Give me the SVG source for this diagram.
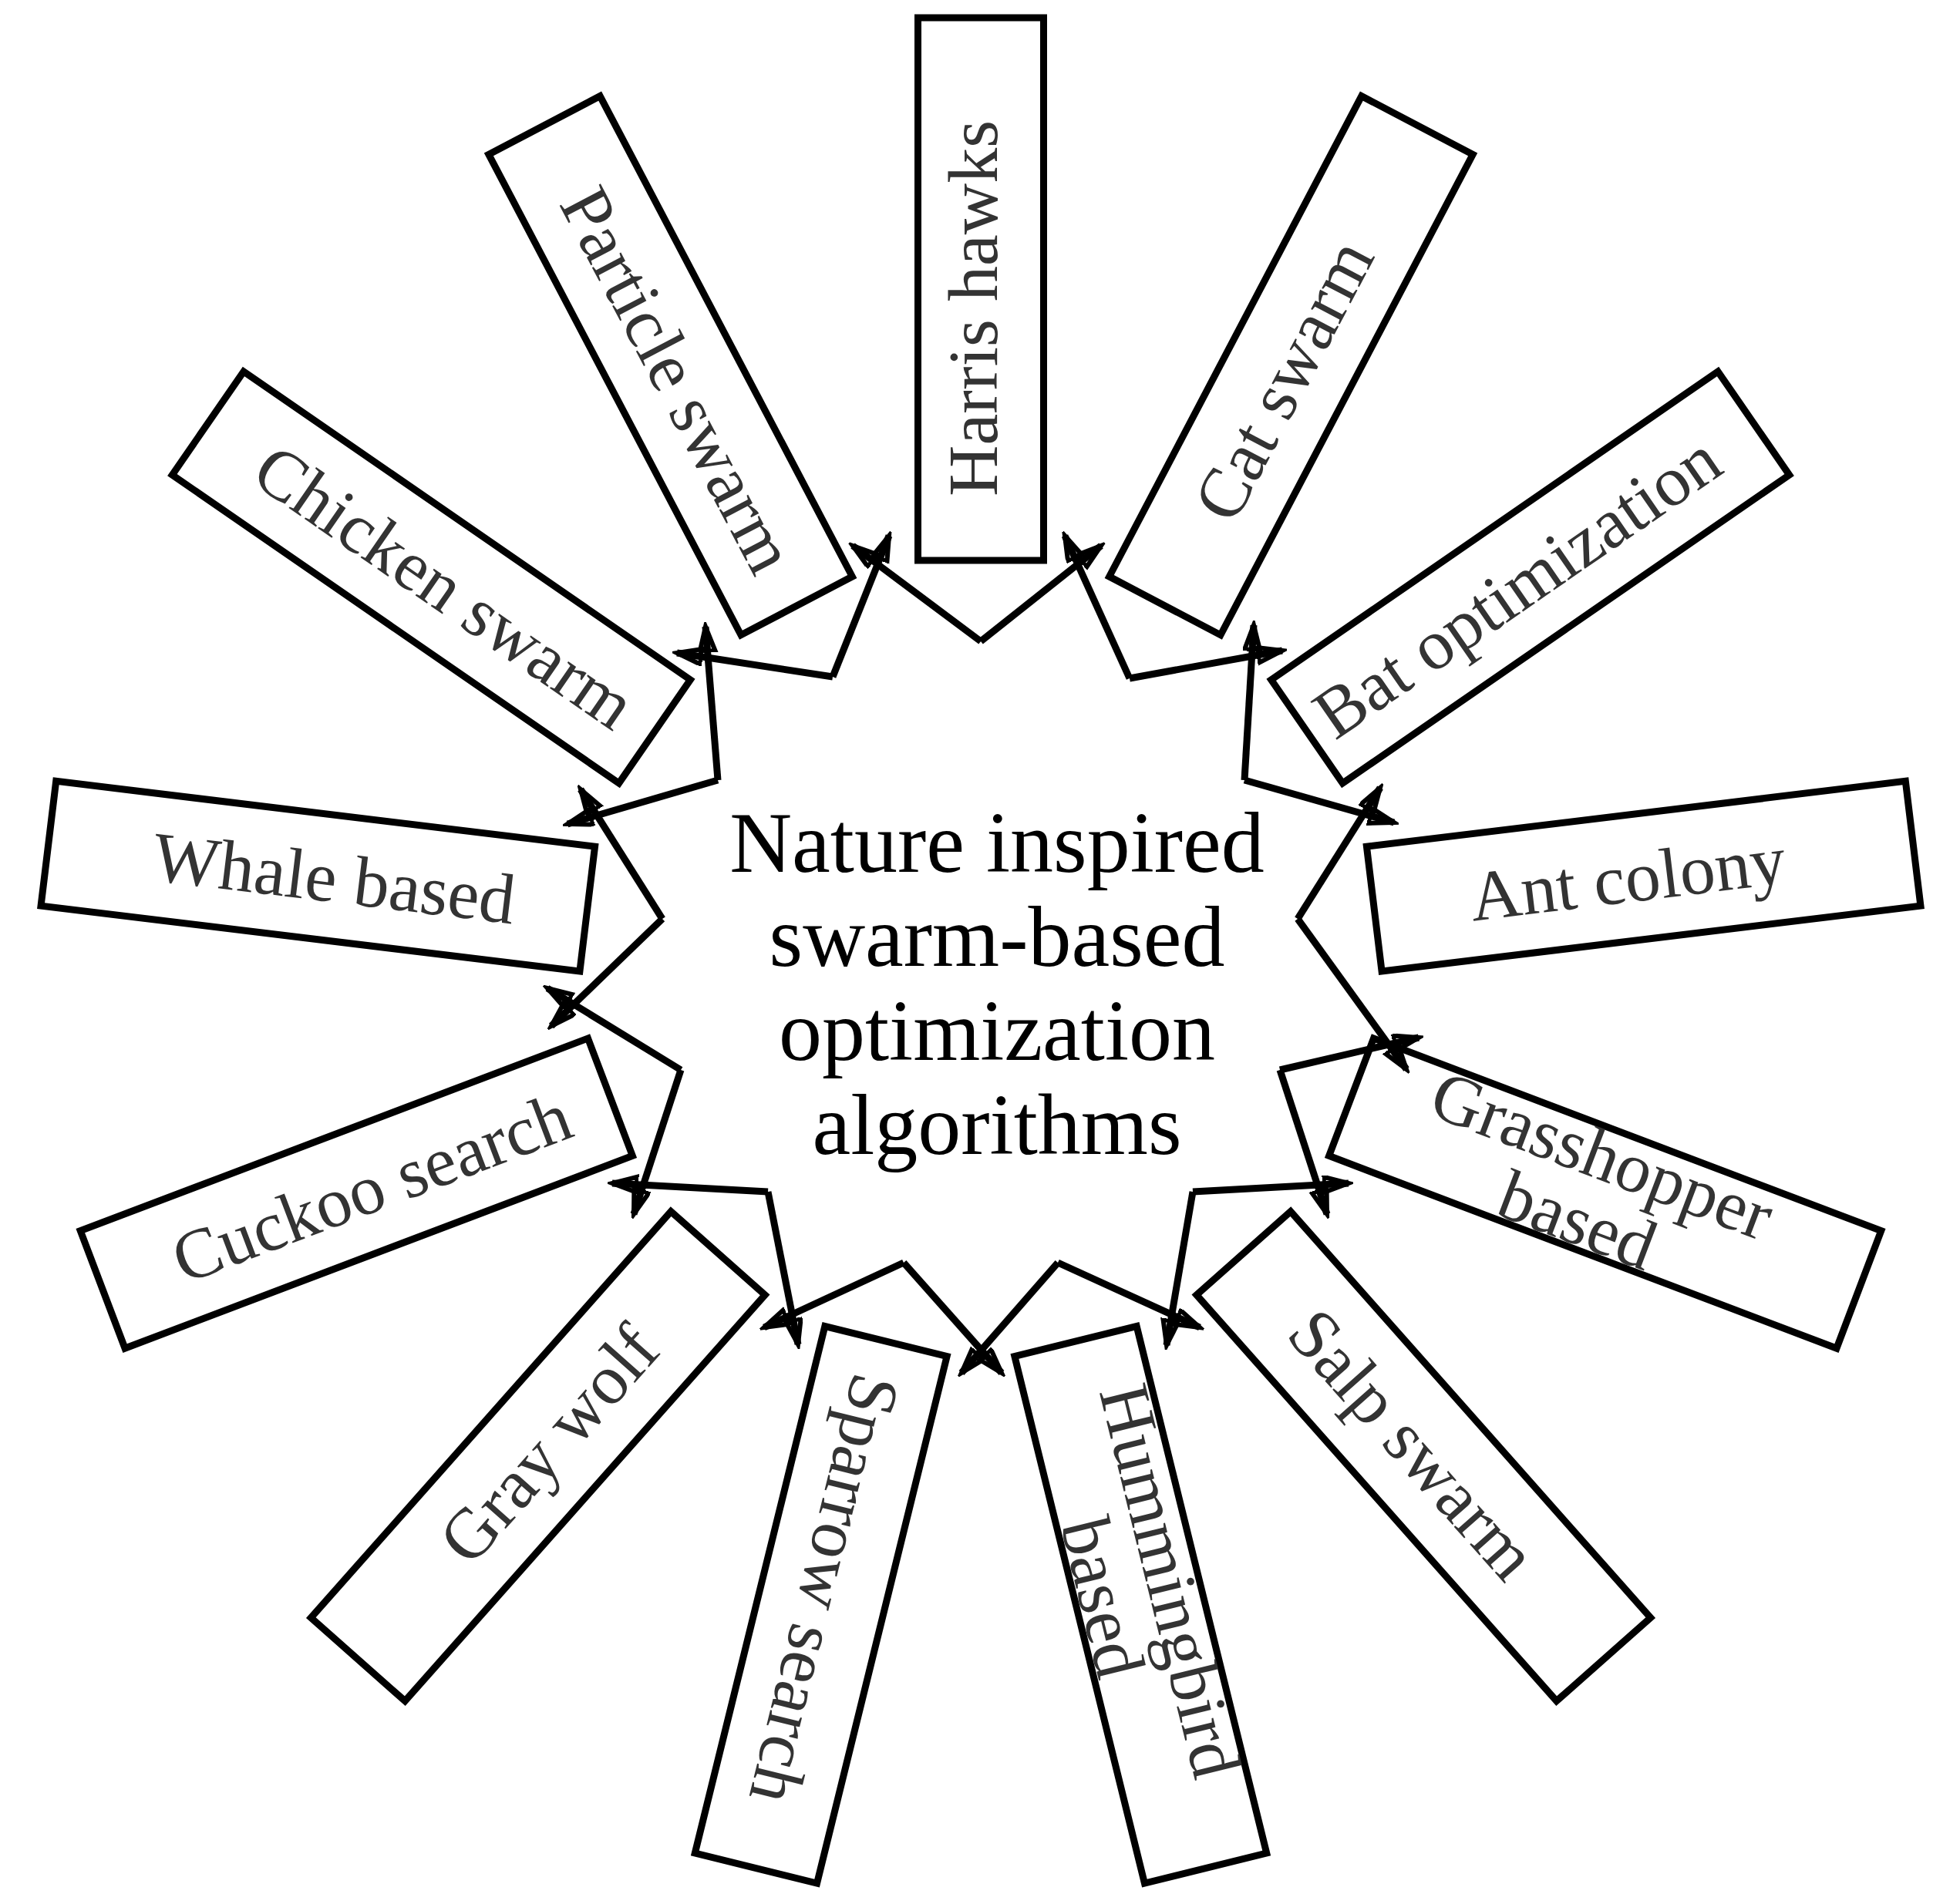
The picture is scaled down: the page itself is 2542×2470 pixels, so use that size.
<svg xmlns="http://www.w3.org/2000/svg" width="2542" height="2470" viewBox="0 0 2542 2470">
<style>
.box{fill:#fff;stroke:#000;stroke-width:9}
.lbl{font-family:"Liberation Serif",serif;font-size:92px;fill:#333;text-anchor:middle;dominant-baseline:central}
.ctr{font-family:"Liberation Serif",serif;font-size:112px;fill:#000;text-anchor:middle}
.edge{stroke:#000;stroke-width:9;fill:none}
</style>
<defs>
<marker id="ah" markerUnits="userSpaceOnUse" markerWidth="40" markerHeight="30" refX="34" refY="12" orient="auto">
<path d="M2,2 L34,12 L2,22 z" fill="none" stroke="#000" stroke-width="6"/>
</marker>
</defs>
<rect width="2542" height="2470" fill="#fff"/>
<g id="n0"><g transform="rotate(0 1272 1241)"><rect class="box" x="1190.5" y="23" width="163" height="704"/><text class="lbl" transform="translate(1262 400) rotate(-90)">Harris hawks</text></g></g>
<g id="n1"><g transform="rotate(27.69 1272 1241)"><rect class="box" x="1190.5" y="23" width="163" height="704"/><text class="lbl" transform="translate(1272 396) rotate(-90)">Cat swarm</text></g></g>
<g id="n2"><g transform="rotate(55.38 1272 1241)"><rect class="box" x="1190.5" y="23" width="163" height="704"/><text class="lbl" transform="translate(1272 396) rotate(-90)">Bat optimization</text></g></g>
<g id="n3"><g transform="rotate(83.08 1272 1241)"><rect class="box" x="1190.5" y="23" width="163" height="704"/><text class="lbl" transform="translate(1272 396) rotate(-90)">Ant colony</text></g></g>
<g id="n4"><g transform="rotate(110.77 1272 1241)"><rect class="box" x="1190.5" y="23" width="163" height="704"/><text class="lbl" transform="translate(1272 396) rotate(-90)"><tspan x="0" y="-45">Grasshopper</tspan><tspan x="0" y="45">based</tspan></text></g></g>
<g id="n5"><g transform="rotate(138.46 1272 1241)"><rect class="box" x="1190.5" y="23" width="163" height="704"/><text class="lbl" transform="translate(1272 396) rotate(-90)">Salp swarm</text></g></g>
<g id="n6"><g transform="rotate(166.15 1272 1241)"><rect class="box" x="1190.5" y="23" width="163" height="704"/><text class="lbl" transform="translate(1272 396) rotate(-90)"><tspan x="0" y="-45">Hummingbird</tspan><tspan x="0" y="45">based</tspan></text></g></g>
<g id="n7"><g transform="rotate(193.85 1272 1241)"><rect class="box" x="1190.5" y="23" width="163" height="704"/><text class="lbl" transform="translate(1272 396) rotate(-90)">Sparrow search</text></g></g>
<g id="n8"><g transform="rotate(221.54 1272 1241)"><rect class="box" x="1190.5" y="23" width="163" height="704"/><text class="lbl" transform="translate(1272 396) rotate(90)">Gray wolf</text></g></g>
<g id="n9"><g transform="rotate(249.23 1272 1241)"><rect class="box" x="1190.5" y="23" width="163" height="704"/><text class="lbl" transform="translate(1272 396) rotate(90)">Cuckoo search</text></g></g>
<g id="n10"><g transform="rotate(276.92 1272 1241)"><rect class="box" x="1190.5" y="23" width="163" height="704"/><text class="lbl" transform="translate(1272 396) rotate(90)">Whale based</text></g></g>
<g id="n11"><g transform="rotate(304.62 1272 1241)"><rect class="box" x="1190.5" y="23" width="163" height="704"/><text class="lbl" transform="translate(1272 396) rotate(90)">Chicken swarm</text></g></g>
<g id="n12"><g transform="rotate(332.31 1272 1241)"><rect class="box" x="1190.5" y="23" width="163" height="704"/><text class="lbl" transform="translate(1272 396) rotate(90)">Particle swarm</text></g></g>
<g id="center"><text class="ctr"><tspan x="1293" y="1131">Nature inspired</tspan><tspan x="1293" y="1253">swarm-based</tspan><tspan x="1293" y="1375">optimization</tspan><tspan x="1293" y="1497">algorithms</tspan></text></g>
<g id="connectors" class="edge" marker-end="url(#ah)">
<line x1="1080" y1="878" x2="1153" y2="695"/><line x1="1272" y1="832" x2="1106" y2="708"/>
<line x1="1272" y1="832" x2="1428" y2="708"/><line x1="1465" y1="880" x2="1381" y2="695"/>
<line x1="1465" y1="880" x2="1663" y2="844"/><line x1="1614" y1="1012" x2="1626" y2="811"/>
<line x1="1614" y1="1012" x2="1808" y2="1067"/><line x1="1683" y1="1192" x2="1790" y2="1022"/>
<line x1="1683" y1="1192" x2="1824" y2="1387"/><line x1="1660" y1="1388" x2="1840" y2="1346"/>
<line x1="1660" y1="1388" x2="1721" y2="1575"/><line x1="1547" y1="1546" x2="1749" y2="1535"/>
<line x1="1547" y1="1546" x2="1513" y2="1745"/><line x1="1372" y1="1638" x2="1556" y2="1722"/>
<line x1="1372" y1="1638" x2="1247" y2="1781"/><line x1="1172" y1="1638" x2="1299" y2="1781"/>
<line x1="1172" y1="1638" x2="991" y2="1722"/><line x1="996" y1="1546" x2="1035" y2="1744"/>
<line x1="996" y1="1546" x2="794" y2="1535"/><line x1="883" y1="1388" x2="822" y2="1575"/>
<line x1="883" y1="1388" x2="710" y2="1282"/><line x1="859" y1="1192" x2="715" y2="1331"/>
<line x1="859" y1="1192" x2="753" y2="1024"/><line x1="931" y1="1012" x2="736" y2="1069"/>
<line x1="931" y1="1012" x2="915" y2="813"/><line x1="1080" y1="878" x2="878" y2="847"/>
</g>
</svg>
